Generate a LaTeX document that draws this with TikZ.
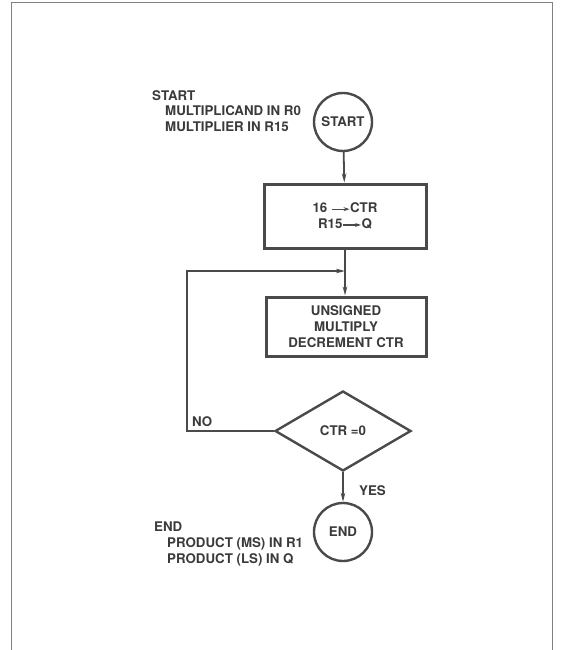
\documentclass[tikz,border=0pt]{standalone}
\usepackage{fontspec}
\setmainfont{TeX Gyre Heros}
\usetikzlibrary{shapes.geometric,arrows.meta}
\definecolor{ink}{HTML}{4A4A4A}
\definecolor{txt}{HTML}{3A3A3A}
\definecolor{frame}{HTML}{808080}
\newcommand{\tarr}[1]{\tikz[baseline=-0.5ex]\draw[ink,line width=1.1pt,-{Stealth[length=6pt,width=4pt]}] (0,0) -- (#1,0);}
\tikzset{
  every node/.style={text=txt,font=\fontsize{13.3}{15.8}\selectfont\bfseries},
  termbox/.style={circle,draw=ink,line width=2.4pt,minimum size=58pt,inner sep=0pt},
  procbox/.style={rectangle,draw=ink,line width=3pt,inner sep=0pt,align=center},
  decbox/.style={diamond,draw=ink,line width=2.4pt,minimum width=136pt,minimum height=80pt,inner sep=0pt},
  conn/.style={draw=ink,line width=1.8pt,-{Stealth[length=9pt,width=4.5pt]}},
  plain/.style={draw=ink,line width=1.8pt},
  note/.style={align=left,anchor=north west,inner sep=0pt}
}
\begin{document}
\begin{tikzpicture}[x=1pt,y=-1pt]
\useasboundingbox (0,0) rectangle (563,650);
\draw[frame,line width=1pt] (11,652) -- (11,3) -- (552,3) -- (552,652);
\node[termbox] (start) at (343,122) {START};
\node[procbox,minimum width=162pt,minimum height=64pt] (b1) at (345,216) {16 \tarr{18pt}CTR\\R15\tarr{18pt}Q};
\node[procbox,minimum width=160pt,minimum height=59pt] (b2) at (346,326.5) {UNSIGNED\\MULTIPLY\\DECREMENT CTR};
\node[decbox] (d) at (343,431) {CTR =0};
\node[termbox] (end) at (343,532) {END};
\coordinate (j) at (b1.south |- 0,271);
\coordinate (l) at (187,0);
\draw[conn] (start) -- (b1);
\draw[plain] (b1.south) -- (j);
\draw[conn] (j) -- (j |- b2.north);
\draw[conn] (d.west) -- (l |- d.west) -- (l |- j) -- (j);
\draw[conn] (d.south) -- (end);
\node[anchor=south west,inner sep=0pt] (no) at (192,427) {NO};
\node[anchor=west,inner sep=0pt] (yes) at (359,491) {YES};
\node[note] (sn) at (152,90) {START\\\hspace{13pt}MULTIPLICAND IN R0\\\hspace{13pt}MULTIPLIER IN R15};
\node[note] (en) at (154,522) {END\\\hspace{13pt}PRODUCT (MS) IN R1\\\hspace{13pt}PRODUCT (LS) IN Q};
\end{tikzpicture}
\end{document}
